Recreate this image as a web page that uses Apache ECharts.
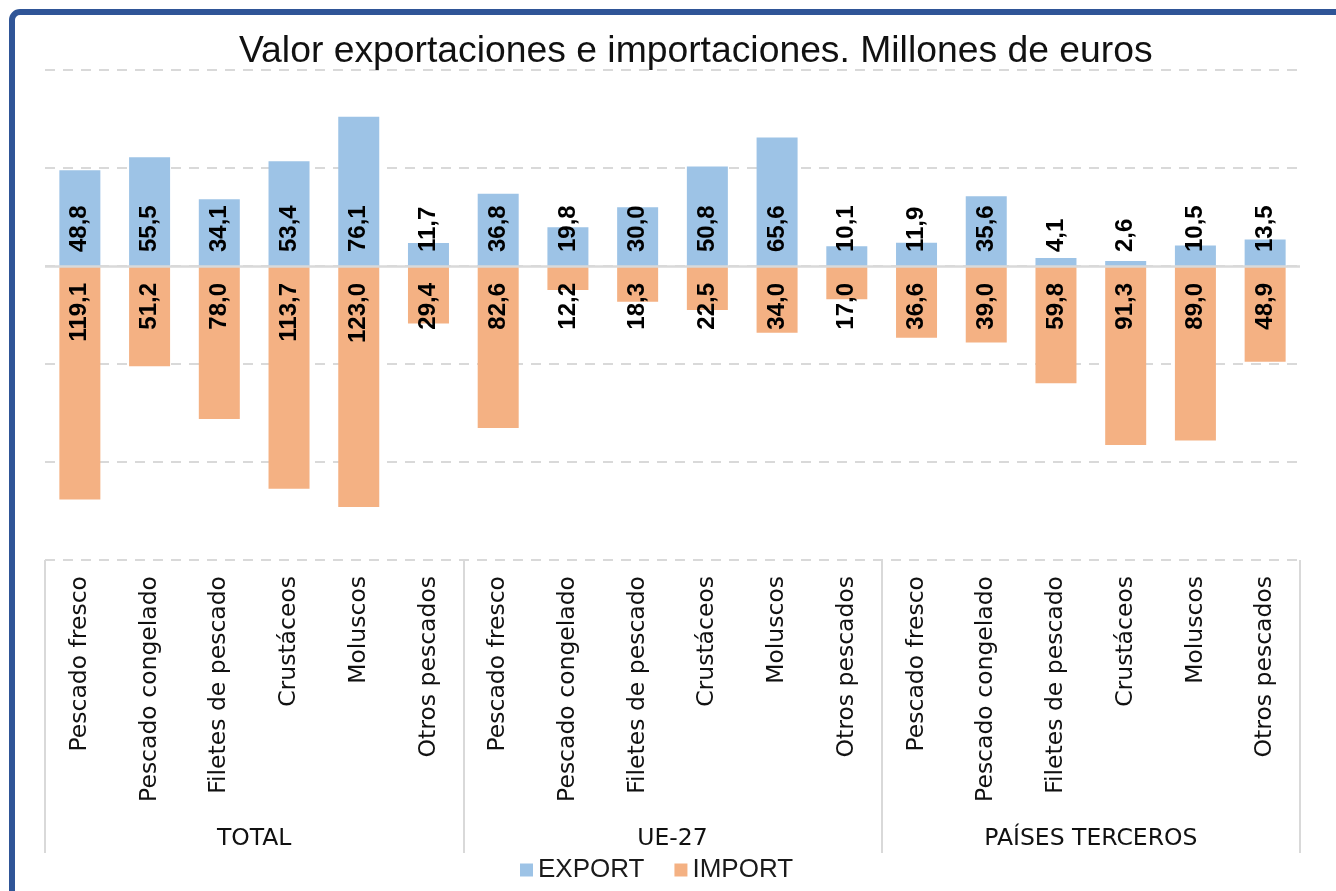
<!DOCTYPE html>
<html>
<head>
<meta charset="utf-8">
<title>Valor exportaciones e importaciones</title>
<script src="https://cdn.jsdelivr.net/npm/echarts@6/dist/echarts.min.js"></script>
<style>
  html, body { margin: 0; padding: 0; background: #fff; }
  #main { width: 1336px; height: 891px; }
</style>
</head>
<body>
<div id="main"></div>
<script>
// productos, repetidos en cada zona
var productos = ['Pescado fresco', 'Pescado congelado', 'Filetes de pescado', 'Crustáceos', 'Moluscos', 'Otros pescados'];
var zonas = ['TOTAL', 'UE-27', 'PAÍSES TERCEROS'];

// millones de euros, en el orden TOTAL, UE-27, PAÍSES TERCEROS
var exportVals = [48.8, 55.5, 34.1, 53.4, 76.1, 11.7,
                  36.8, 19.8, 30.0, 50.8, 65.6, 10.1,
                  11.9, 35.6, 4.1, 2.6, 10.5, 13.5];
var importVals = [119.1, 51.2, 78.0, 113.7, 123.0, 29.4,
                  82.6, 12.2, 18.3, 22.5, 34.0, 17.0,
                  36.6, 39.0, 59.8, 91.3, 89.0, 48.9];

var categorias = [];
zonas.forEach(function () { categorias = categorias.concat(productos); });

var fmt = function (p) { return Math.abs(p.value).toFixed(1).replace('.', ','); };

var myChart = echarts.init(document.getElementById('main'));

var option = {
  backgroundColor: '#fff',
  animation: false,
  title: {
    text: 'Valor exportaciones e importaciones. Millones de euros',
    left: 234,
    top: 28,
    textStyle: { fontFamily: 'Liberation Sans', fontSize: 37.3, fontWeight: 'normal', color: '#111' }
  },
  legend: {
    data: ['EXPORT', 'IMPORT'],
    left: 515,
    top: 852,
    icon: 'rect',
    itemWidth: 13,
    itemHeight: 13,
    itemGap: 30,
    textStyle: { fontFamily: 'Liberation Sans', fontSize: 26, color: '#1a1a1a', padding: [0, 0, 0, 0] }
  },
  grid: { left: 45, right: 36, top: 70, bottom: 331, containLabel: false },
  xAxis: [
    {
      type: 'category',
      data: categorias,
      position: 'bottom',
      axisLine: { show: false },
      axisTick: { show: false },
      axisLabel: {
        interval: 0,
        rotate: 90,
        margin: 16,
        fontFamily: 'DejaVu Sans',
        fontSize: 23.5,
        color: '#111'
      }
    },
    {
      type: 'category',
      data: zonas,
      position: 'bottom',
      offset: 293,
      axisLine: { show: false },
      axisTick: {
        show: true,
        inside: true,
        length: 293,
        lineStyle: { color: '#d9d9d9', width: 2 }
      },
      axisLabel: {
        inside: true,
        margin: 2,
        fontFamily: 'DejaVu Sans',
        fontSize: 23.5,
        color: '#111'
      }
    }
  ],
  yAxis: {
    type: 'value',
    min: -150,
    max: 100,
    interval: 50,
    axisLine: { show: false },
    axisTick: { show: false },
    axisLabel: { show: false },
    splitLine: { lineStyle: { color: '#d9d9d9', width: 2, type: [10, 8] } }
  },
  series: [
    {
      name: 'EXPORT',
      type: 'bar',
      data: exportVals,
      barWidth: 41,
      barGap: '-100%',
      itemStyle: { color: '#9dc3e6' },
      label: {
        show: true,
        position: 'insideBottom',
        distance: 14,
        rotate: 90,
        align: 'left',
        verticalAlign: 'middle',
        formatter: fmt,
        fontFamily: 'Liberation Sans',
        fontWeight: 'bold',
        fontSize: 24,
        color: '#000'
      },
      markLine: {
        silent: true,
        symbol: ['none', 'none'],
        label: { show: false },
        lineStyle: { color: '#d9d9d9', width: 2.5, type: 'solid' },
        data: [{ yAxis: 0 }]
      }
    },
    {
      name: 'IMPORT',
      type: 'bar',
      data: importVals.map(function (v) { return -v; }),
      barWidth: 41,
      barGap: '-100%',
      itemStyle: { color: '#f4b183' },
      label: {
        show: true,
        position: 'insideTop',
        distance: 17,
        rotate: 90,
        align: 'right',
        verticalAlign: 'middle',
        formatter: fmt,
        fontFamily: 'Liberation Sans',
        fontWeight: 'bold',
        fontSize: 24,
        color: '#000'
      }
    }
  ],
  graphic: [
    {
      type: 'rect',
      z: 100,
      silent: true,
      shape: { x: 12, y: 12, width: 1400, height: 1000, r: 8 },
      style: { fill: 'none', stroke: '#2f5597', lineWidth: 6 }
    }
  ]
};

myChart.setOption(option);
</script>
</body>
</html>
